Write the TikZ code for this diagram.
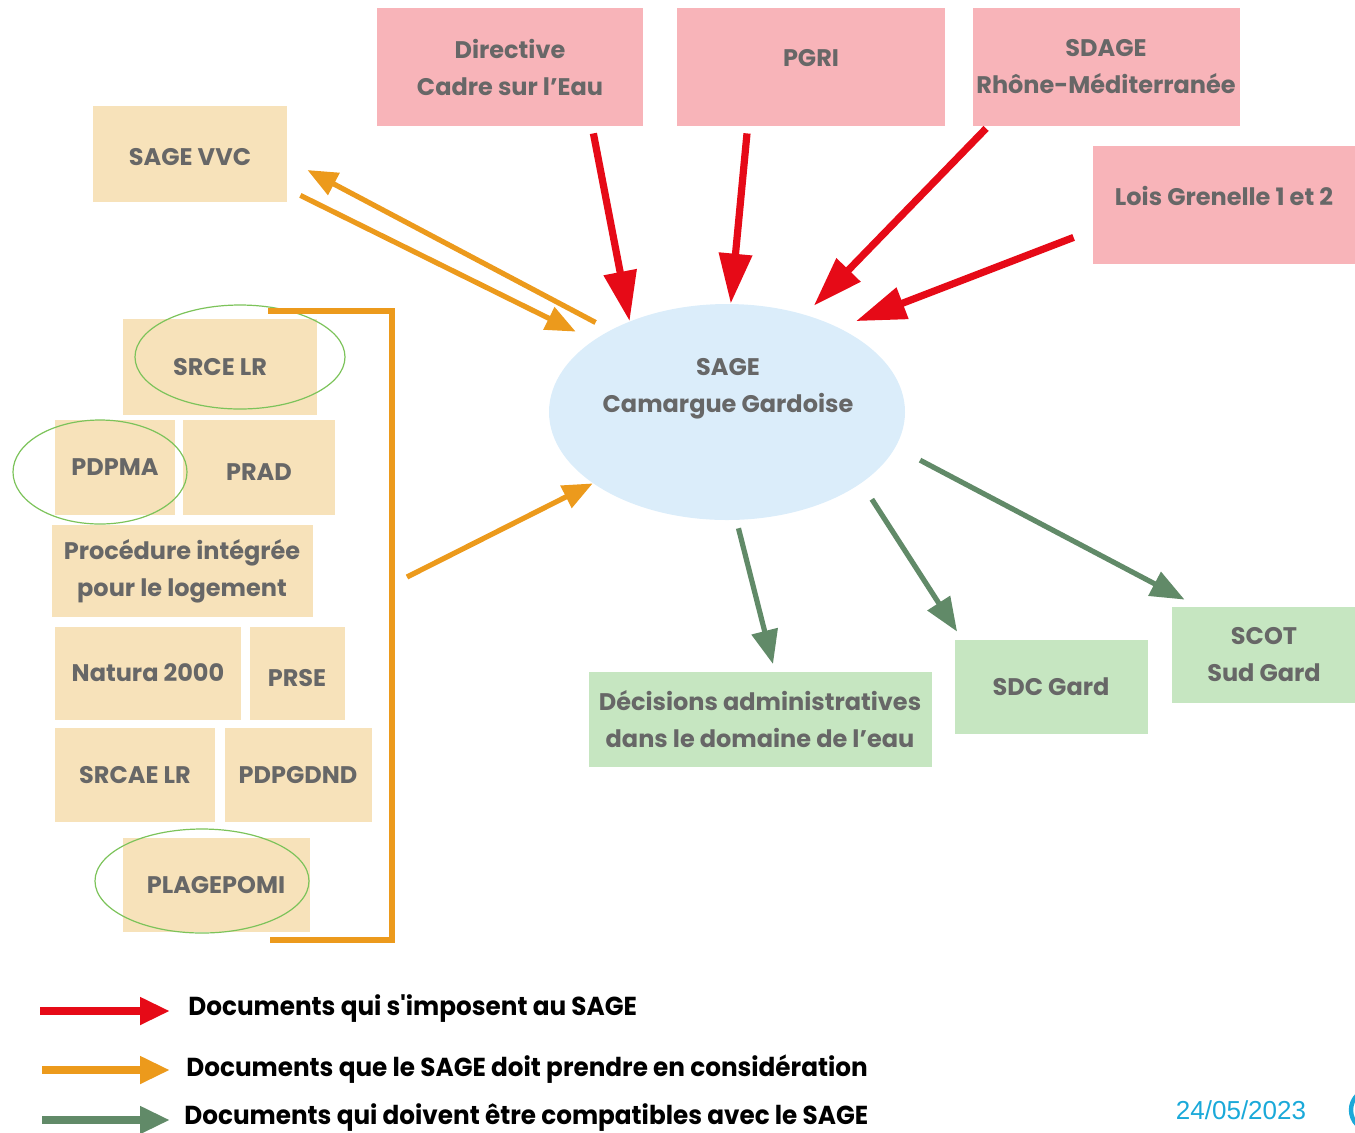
\documentclass[tikz,border=0pt]{standalone}
\usepackage{fontspec}
\setmainfont{Poppins}
\newfontfamily\legendfont[FakeStretch=0.95]{Poppins}
\newfontfamily\datefont{Liberation Sans}
\usepackage{tikz}
\usetikzlibrary{calc,shapes.geometric,arrows.meta}

\definecolor{pinkbg}{HTML}{F8B4B9}
\definecolor{tanbg}{HTML}{F7E2BA}
\definecolor{greenbg}{HTML}{C6E6C1}
\definecolor{bluebg}{HTML}{DBEDFA}
\definecolor{txtgray}{HTML}{676767}
\definecolor{redarr}{HTML}{E60A17}
\definecolor{orangearr}{HTML}{EC9A1C}
\definecolor{greenarr}{HTML}{618A68}
\definecolor{ringgreen}{HTML}{7CC35A}
\definecolor{datecol}{HTML}{1AA9D9}

\begin{document}
\begin{tikzpicture}[x=0.5pt,y=-0.5pt,
    lbl/.style={text=txtgray,font=\bfseries\fontsize{12}{18.5}\selectfont,align=center,inner sep=0pt},
    pinkbox/.style={fill=pinkbg,lbl},
    tanbox/.style={fill=tanbg,lbl},
    greenbox/.style={fill=greenbg,lbl},
    lifted/.style={text depth=#1},
    lowered/.style={text height=#1},
    redline/.style={draw=redarr,line width=3.6pt,-{Triangle[length=25pt,width=16pt]}},
    orangeline/.style={draw=orangearr,line width=2.6pt,-{Triangle[length=15pt,width=12pt]}},
    greenline/.style={draw=greenarr,line width=2.6pt,-{Triangle[length=17pt,width=13pt]}},
    ring/.style={draw=ringgreen,line width=0.6pt},
    legend/.style={font=\legendfont\bfseries\fontsize{13}{15}\selectfont,anchor=west,inner sep=0pt}]
  \useasboundingbox (0,0) rectangle (1355,1132);
  \clip (0,0) rectangle (1355,1132);
  %\draw[very thin,lightgray,step=50] (0,0) grid (1355,1132);

  % documents qui s'imposent
  \node[pinkbox,minimum width=133pt,minimum height=59pt] (dce) at (510,67) {Directive\\Cadre sur l'Eau};
  \node[pinkbox,lifted=9pt,minimum width=134pt,minimum height=59pt] (pgri) at (811,67) {PGRI};
  \node[pinkbox,minimum width=133.5pt,minimum height=59pt] (sdage) at (1106,67) {SDAGE\\Rhône-Méditerranée};
  \node[pinkbox,lifted=9pt,minimum width=131pt,minimum height=59pt] (grenelle) at (1224,205) {Lois Grenelle 1 et 2};

  % SAGE
  \node[ellipse,fill=bluebg,minimum width=178pt,minimum height=108pt] (sage) at (727,412) {};
  \node[lbl] (sagetxt) at (728,389) {SAGE\\Camargue Gardoise};

  % documents a prendre en consideration
  \node[tanbox,lowered=12pt,minimum width=97pt,minimum height=48pt] (vvc) at (190,154) {SAGE VVC};
  \node[tanbox,minimum width=97pt,minimum height=48pt] (srce) at (220,367) {SRCE LR};
  \node[tanbox,minimum width=60pt,minimum height=47.5pt] (pdpma) at (115,467) {PDPMA};
  \node[tanbox,lowered=13.5pt,minimum width=76pt,minimum height=47.5pt] (prad) at (259,467) {PRAD};
  \node[tanbox,minimum width=130.5pt,minimum height=46pt] (pil) at (182,571) {Procédure intégrée\\pour le logement};
  \node[tanbox,minimum width=93pt,minimum height=46.5pt] (natura) at (148,673) {Natura 2000};
  \node[tanbox,lowered=13.5pt,minimum width=47.5pt,minimum height=46.5pt] (prse) at (297,673) {PRSE};
  \node[tanbox,minimum width=80pt,minimum height=47pt] (srcae) at (135,775) {SRCAE LR};
  \node[tanbox,minimum width=73.5pt,minimum height=47pt] (pdpgdnd) at (298,775) {PDPGDND};
  \node[tanbox,minimum width=93.5pt,minimum height=47pt] (plagepomi) at (216,885) {PLAGEPOMI};
  \draw[ring] (240,357) ellipse [x radius=105,y radius=52];
  \draw[ring] (100,472) ellipse [x radius=87,y radius=52];
  \draw[ring] (202,881) ellipse [x radius=107,y radius=52];
  \draw[orangearr,line width=2.6pt] (268,311) -- (392,311) -- (392,940) -- (270,940);
  \coordinate (fromlist) at (407,577);

  % documents compatibles
  \node[greenbox,minimum width=171.5pt,minimum height=47.5pt] (decisions) at (760,719) {Décisions administratives\\dans le domaine de l'eau};
  \node[greenbox,minimum width=96.5pt,minimum height=47pt] (sdc) at (1051,687) {SDC Gard};
  \node[greenbox,minimum width=92pt,minimum height=48pt] (scot) at (1264,655) {SCOT\\Sud Gard};

  \draw[redline] ($(dce.south east)+(-50,7)$) -- (sage.137);
  \draw[redline] ($(pgri.south)+(-64,7)$) -- (sage.88);
  \draw[redline] ($(sdage.south west)+(14,2)$) -- ([shift={(8,-9)}]sage.51);
  \draw[redline] ($(grenelle.south west)+(-19,-27)$) -- ([shift={(12,-9)}]sage.35);
  \draw[orangeline] ($(vvc.south east)+(13,-7)$) -- ([shift={(-17,-9)}]sage.152);
  \draw[orangeline] ([shift={(-12,-9)}]sage.146) -- ($(vvc.east)+(20,16)$);
  \draw[orangeline] (fromlist) -- (sage.208);
  \draw[greenline] ([shift={(2,8)}]sage.275) -- ($(decisions.north)+(13,-7)$);
  \draw[greenline] ([shift={(18,11)}]sage.329) -- ($(sdc.north west)+(3,-8)$);
  \draw[greenline] ([shift={(28,7)}]sage.346) -- ($(scot.north west)+(13,-7)$);

  % legende
  \node[legend] (leg1) at (188,1009) {Documents qui s'imposent au SAGE};
  \node[legend] (leg2) at (186,1069) {Documents que le SAGE doit prendre en considération};
  \node[legend] (leg3) at (184,1118) {Documents qui doivent être compatibles avec le SAGE};
  \coordinate (leg1s) at (40,1011);
  \coordinate (leg2s) at (42,1070);
  \coordinate (leg3s) at (42,1120);
  \draw[draw=redarr,line width=4pt,-{Triangle[length=15pt,width=13pt]},shorten >=9pt] (leg1s) -- (leg1s -| leg1.west);
  \draw[draw=orangearr,line width=4pt,-{Triangle[length=15pt,width=13pt]},shorten >=8pt] (leg2s) -- (leg2s -| leg2.west);
  \draw[draw=greenarr,line width=4pt,-{Triangle[length=15pt,width=13pt]},shorten >=7pt] (leg3s) -- (leg3s -| leg3.west);

  \node[font=\datefont\fontsize{13}{15}\selectfont,text=datecol,inner sep=0pt] (date) at (1241,1110) {24/05/2023};
  \draw[datecol,line width=2.2pt] (1372,1110) circle [radius=21];
\end{tikzpicture}
\end{document}
